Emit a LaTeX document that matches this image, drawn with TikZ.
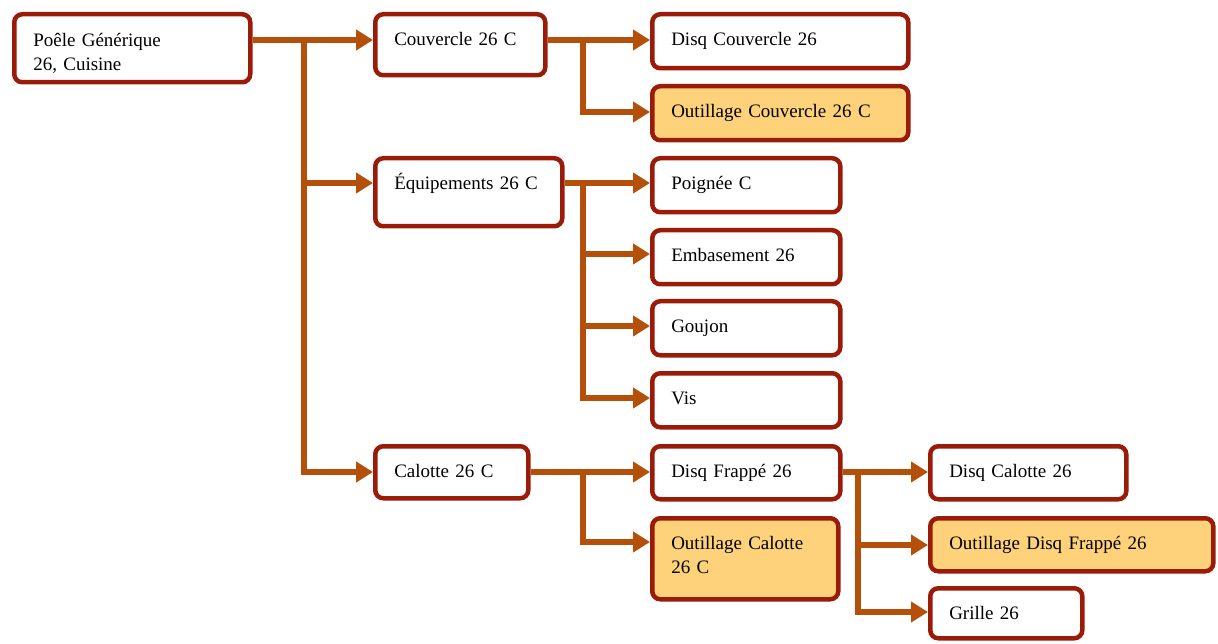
\documentclass[tikz,border=0pt]{standalone}
\usepackage{fontspec}
\setmainfont{Liberation Serif}
\usetikzlibrary{arrows.meta}
\definecolor{bordc}{HTML}{9A1C08}
\definecolor{arrc}{HTML}{B5500A}
\definecolor{fillc}{HTML}{FDD27A}
\begin{document}
\begin{tikzpicture}[x=1pt,y=-1pt,
  box/.style={draw=bordc, line width=4.5pt, rounded corners=8pt, fill=white,
    anchor=north west, align=left, inner xsep=19pt, inner ysep=12pt,
    text height=19pt, font=\fontsize{19}{24}\selectfont},
  hbox/.style={box, fill=fillc},
  % width, height, text width, text depth
  sz/.style n args={4}{minimum width=#1, minimum height=#2, text width=#3, text depth=#4},
  conn/.style={draw=arrc, line width=6pt, -{Triangle[length=17pt,width=20pt]}}]
\useasboundingbox (0,0) rectangle (1218,644);
\fill[white] (0,0) rectangle (1218,644);

% boxes
\node[box, sz={236pt}{68pt}{198pt}{24pt}, text height=20pt] (root) at (12,12) {Poêle Générique\\26, Cuisine};
\node[box, sz={170pt}{61pt}{132pt}{18pt}]  (cov)  at (373,12) {Couvercle 26 C};
\node[box, sz={256pt}{54pt}{218pt}{11pt}]  (dcov) at (650,12) {Disq Couvercle 26};
\node[hbox, sz={256pt}{54pt}{218pt}{11pt}] (ocov) at (650,84) {Outillage Couvercle 26 C};
\node[box, sz={187pt}{68pt}{149pt}{25pt}]  (equ)  at (373,156) {Équipements 26 C};
\node[box, sz={188pt}{54pt}{150pt}{11pt}]  (poi)  at (650,156) {Poignée C};
\node[box, sz={188pt}{54pt}{150pt}{11pt}]  (emb)  at (650,228) {Embasement 26};
\node[box, sz={188pt}{54pt}{150pt}{11pt}]  (gou)  at (650,299) {Goujon};
\node[box, sz={188pt}{54pt}{150pt}{11pt}]  (vis)  at (650,371) {Vis};
\node[box, sz={153pt}{52pt}{115pt}{9pt}]   (cal)  at (373,444) {Calotte 26 C};
\node[box, sz={188pt}{53pt}{150pt}{10pt}]  (dfr)  at (650,444) {Disq Frappé 26};
\node[hbox, sz={186pt}{81pt}{148pt}{38pt}] (ocal) at (650,516) {Outillage Calotte\\26 C};
\node[box, sz={196pt}{53pt}{158pt}{10pt}]  (dcal) at (928,444) {Disq Calotte 26};
\node[hbox, sz={283pt}{53pt}{245pt}{10pt}] (odf)  at (928,516) {Outillage Disq Frappé 26};
\node[box, sz={152pt}{50pt}{114pt}{7pt}]   (gri)  at (928,586) {Grille 26};

% junction points on the vertical trunks
\coordinate (j1) at (304,40);
\coordinate (j2) at (583,40);
\coordinate (j3) at (583,183);
\coordinate (j4) at (583,472);
\coordinate (j5) at (858,472);

% Poele Generique
\draw[conn] (root.east |- 0,40) -- (cov.west |- 0,40);
\draw[conn] (j1) |- (equ.west |- 0,183);
\draw[conn] (j1) |- (cal.west |- 0,472);
% Couvercle
\draw[conn] (cov.east |- 0,40) -- (dcov.west |- 0,40);
\draw[conn] (j2) |- (ocov.west |- 0,112);
% Equipements
\draw[conn] (equ.east |- 0,183) -- (poi.west |- 0,183);
\draw[conn] (j3) |- (emb.west |- 0,254);
\draw[conn] (j3) |- (gou.west |- 0,326);
\draw[conn] (j3) |- (vis.west |- 0,398);
% Calotte
\draw[conn] (cal.east |- 0,472) -- (dfr.west |- 0,472);
\draw[conn] (j4) |- (ocal.west |- 0,542);
% Disq Frappe
\draw[conn] (dfr.east |- 0,472) -- (dcal.west |- 0,472);
\draw[conn] (j5) |- (odf.west |- 0,545);
\draw[conn] (j5) |- (gri.west |- 0,612);
\end{tikzpicture}
\end{document}
